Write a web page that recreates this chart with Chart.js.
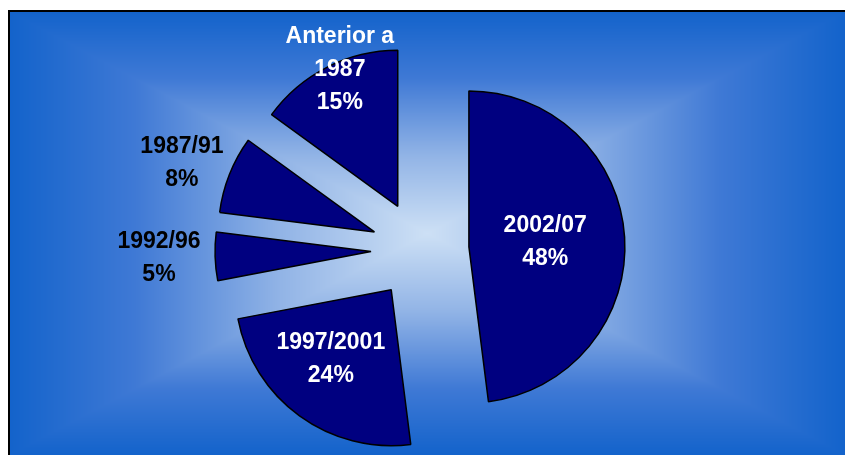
<!DOCTYPE html>
<html>
<head>
<meta charset="utf-8">
<script src="https://cdn.jsdelivr.net/npm/chart.js@4"></script>
<style>
  html, body { margin: 0; padding: 0; background: #fff; }
  #wrap { width: 845px; height: 455px; position: relative; }
</style>
</head>
<body>
<div id="wrap"><canvas id="pieChart"></canvas></div>
<script>
// data (clockwise from 12 o'clock)
const periods = [['2002/07'], ['1997/2001'], ['1992/96'], ['1987/91'], ['Anterior a', '1987']];
const shares = [48, 24, 5, 8, 15];

// label look per slice
const labelColors = ['#ffffff', '#ffffff', '#000000', '#000000', '#ffffff'];
const labelRadius = [0.49, 0.59, 1.36, 1.31, 0.95];
const labelTurn = [0, 5, 0, -2, 4];   // degrees

const EXPLODE = 49;   // px every slice is pulled away from the centre

// colour ramp of the backdrop, edge -> centre
const rampStops = [[0, [19, 99, 203]], [0.3, [63, 121, 213]], [0.65, [146, 180, 230]], [1, [205, 224, 245]]];

function rampColor(s) {
    for (let k = 1; k < rampStops.length; k++) {
        const a = rampStops[k - 1], b = rampStops[k];
        if (s <= b[0]) {
            const f = (s - a[0]) / (b[0] - a[0]);
            return a[1].map((v, j) => v + (b[1][j] - v) * f);
        }
    }
    return rampStops[rampStops.length - 1][1];
}

let backdropCache = null;

// rectangular "from center" gradient, built pixel by pixel so there are no seams
const backdrop = {
    id: 'backdrop',
    beforeDraw(chart) {
        const ctx = chart.ctx;
        const W = chart.width, H = chart.height;
        if (!backdropCache || backdropCache.width !== W || backdropCache.height !== H) {
            const c = document.createElement('canvas');
            c.width = W; c.height = H;
            const g = c.getContext('2d');
            const img = g.createImageData(W, H);
            const L = 10, T = 12, R = W, B = H;
            const cx = (L + R) / 2, cy = (T + B) / 2;
            const hw = (R - L) / 2, hh = (B - T) / 2;
            for (let y = 0; y < H; y++) {
                for (let x = 0; x < W; x++) {
                    const p = (y * W + x) * 4;
                    let col = [255, 255, 255];
                    if (x >= L && y >= T) {
                        const t = Math.max(Math.abs(x + 0.5 - cx) / hw, Math.abs(y + 0.5 - cy) / hh);
                        col = rampColor(1 - Math.min(1, t));
                    }
                    img.data[p] = col[0];
                    img.data[p + 1] = col[1];
                    img.data[p + 2] = col[2];
                    img.data[p + 3] = 255;
                }
            }
            g.putImageData(img, 0, 0);
            g.strokeStyle = '#000';
            g.lineWidth = 2;
            g.beginPath();
            g.moveTo(L - 1, B);
            g.lineTo(L - 1, T - 1);
            g.lineTo(R, T - 1);
            g.stroke();
            backdropCache = c;
        }
        ctx.drawImage(backdropCache, 0, 0);
    }
};

// pull every slice out by the same distance along its bisector
const explode = {
    id: 'explode',
    afterDatasetsUpdate(chart) {
        chart.getDatasetMeta(0).data.forEach(arc => {
            const mid = (arc.startAngle + arc.endAngle) / 2;
            arc.x += Math.cos(mid) * EXPLODE;
            arc.y += Math.sin(mid) * EXPLODE;
        });
    }
};

// category + percent labels, placed from each arc's own geometry
const sliceLabels = {
    id: 'sliceLabels',
    afterDatasetsDraw(chart) {
        const ctx = chart.ctx;
        const meta = chart.getDatasetMeta(0);
        ctx.save();
        ctx.font = 'bold 23px "Liberation Sans", Arial, sans-serif';
        ctx.textAlign = 'center';
        ctx.textBaseline = 'middle';
        meta.data.forEach((arc, i) => {
            const a = (arc.startAngle + arc.endAngle) / 2 + labelTurn[i] * Math.PI / 180;
            const d = arc.outerRadius * labelRadius[i];
            const x = arc.x + Math.cos(a) * d;
            const y = arc.y + Math.sin(a) * d;
            const lines = periods[i].concat([shares[i] + '%']);
            const lh = 33;
            ctx.fillStyle = labelColors[i];
            lines.forEach((s, k) => {
                ctx.fillText(s, x, y + (k - (lines.length - 1) / 2) * lh);
            });
        });
        ctx.restore();
    }
};

new Chart(document.getElementById('pieChart'), {
    type: 'pie',
    data: {
        labels: periods.map(p => p.join(' ')),
        datasets: [{
            data: shares,
            backgroundColor: '#000080',
            borderColor: '#000000',
            borderWidth: 1.5
        }]
    },
    options: {
        responsive: true,
        maintainAspectRatio: false,
        animation: false,
        events: [],
        radius: 156,
        layout: { padding: { left: 0, right: 5, top: 45, bottom: 0 } },
        plugins: {
            legend: { display: false },
            tooltip: { enabled: false }
        }
    },
    plugins: [backdrop, explode, sliceLabels]
});
</script>
</body>
</html>
